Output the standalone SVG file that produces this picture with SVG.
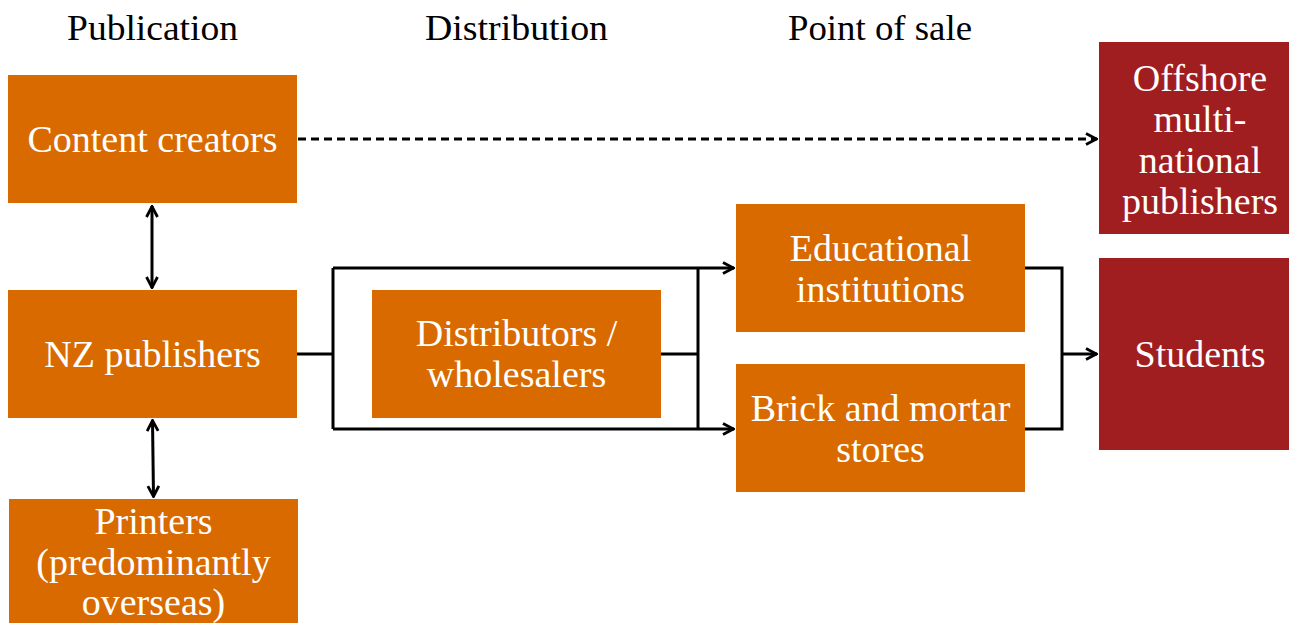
<svg xmlns="http://www.w3.org/2000/svg" width="1289" height="623" viewBox="0 0 1289 623">
<defs>
<style>
.o{fill:#D96A00}
.r{fill:#A01E20}
.t{fill:#fff;font-family:"Liberation Serif","DejaVu Serif",serif;font-size:38px;text-anchor:middle}
.h{fill:#000;font-family:"Liberation Serif","DejaVu Serif",serif;font-size:35px;text-anchor:middle}
.c{fill:none;stroke:#000;stroke-width:3}
.d{stroke-dasharray:8 5}
</style>
<marker id="a" viewBox="0 0 14 14" refX="13" refY="7" markerWidth="14" markerHeight="14" markerUnits="userSpaceOnUse" orient="auto-start-reverse">
<path d="M2 1.5 L12.5 7 L2 12.5" fill="none" stroke="#000" stroke-width="2.8"/>
</marker>
</defs>
<rect width="1289" height="623" fill="#fff"/>
<g id="headers">
<text class="h" x="152.5" y="40" textLength="171" lengthAdjust="spacingAndGlyphs">Publication</text>
<text class="h" x="516.5" y="40" textLength="183" lengthAdjust="spacingAndGlyphs">Distribution</text>
<text class="h" x="880" y="40" textLength="184" lengthAdjust="spacingAndGlyphs">Point of sale</text>
</g>
<g id="connectors">
<path class="c d" d="M298 139 H1097" marker-end="url(#a)"/>
<path class="c" d="M152 206 V288" marker-start="url(#a)" marker-end="url(#a)"/>
<path class="c" d="M152.5 420 L153.5 497" marker-start="url(#a)" marker-end="url(#a)"/>
<path class="c" d="M297 354 H333 M333 268 V429"/>
<path class="c" d="M333 268 H734" marker-end="url(#a)"/>
<path class="c" d="M333 429 H734" marker-end="url(#a)"/>
<path class="c" d="M661 354 H698 M698 268 V429"/>
<path class="c" d="M1025 268 H1062 V429 H1025"/>
<path class="c" d="M1062 354 H1097" marker-end="url(#a)"/>
</g>
<g id="content-creators">
<rect class="o" x="8" y="75" width="289" height="128"/>
<text class="t" x="152.5" y="152">Content creators</text>
</g>
<g id="nz-publishers">
<rect class="o" x="8" y="290" width="289" height="128"/>
<text class="t" x="152.5" y="367">NZ publishers</text>
</g>
<g id="printers">
<rect class="o" x="9" y="499" width="289" height="124"/>
<text class="t" x="153.5" y="534">Printers</text>
<text class="t" x="153.5" y="575">(predominantly</text>
<text class="t" x="153.5" y="615">overseas)</text>
</g>
<g id="distributors">
<rect class="o" x="372" y="290" width="289" height="128"/>
<text class="t" x="516.5" y="346">Distributors /</text>
<text class="t" x="516.5" y="387">wholesalers</text>
</g>
<g id="educational">
<rect class="o" x="736" y="204" width="289" height="128"/>
<text class="t" x="880.5" y="261">Educational</text>
<text class="t" x="880.5" y="302">institutions</text>
</g>
<g id="brick">
<rect class="o" x="736" y="364" width="289" height="128"/>
<text class="t" x="880.5" y="421">Brick and mortar</text>
<text class="t" x="880.5" y="462">stores</text>
</g>
<g id="offshore">
<rect class="r" x="1099" y="42" width="190" height="192"/>
<text class="t" x="1200" y="91">Offshore</text>
<text class="t" x="1200" y="132">multi-</text>
<text class="t" x="1200" y="173">national</text>
<text class="t" x="1200" y="214">publishers</text>
</g>
<g id="students">
<rect class="r" x="1099" y="258" width="190" height="192"/>
<text class="t" x="1200" y="367">Students</text>
</g>
</svg>
